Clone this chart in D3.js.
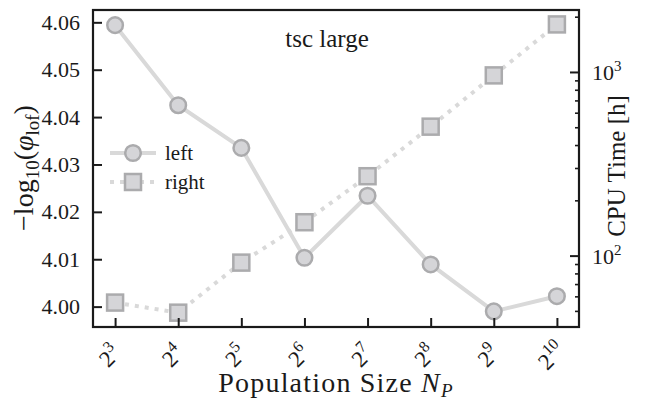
<!DOCTYPE html>
<html>
<head>
<meta charset="utf-8">
<script src="https://cdn.jsdelivr.net/npm/d3@7"></script>
<style>
  html, body { margin: 0; padding: 0; background: #fff; }
  svg, svg text { font-family: "Liberation Serif", "Times New Roman", "DejaVu Serif", serif; }
</style>
</head>
<body>
<svg id="chart" width="652" height="403"></svg>
<script>
// Population sizes as powers of two (exponents)
const exponents = [3, 4, 5, 6, 7, 8, 9, 10];
// Left axis: -log10(phi_lof)
const leftValues = [4.0594, 4.0425, 4.0335, 4.0103, 4.0234, 4.0089, 3.9990, 4.0022];
// Right axis: CPU time in hours
const rightValues = [55.5, 48.9, 91.6, 152, 270.6, 503.7, 957.9, 1815];
const leftTicks = [4.00, 4.01, 4.02, 4.03, 4.04, 4.05, 4.06];
const rightMajorTicks = [100, 1000];

const FONT = "Liberation Serif";
const svg = d3.select("#chart");
const plot = { left: 93, right: 579, top: 10, bottom: 327 };

const lineColor = "#d9d9d9";
const markFill = "#d5d5d8";
const markStroke = "#ababad";
const ink = "#1a1a1a";

const x = d3.scaleLinear().domain([2.65, 10.35]).range([plot.left, plot.right]);
const yL = d3.scaleLinear().domain([3.9957, 4.0626]).range([plot.bottom, plot.top]);
const yR = d3.scaleLog().domain([Math.pow(10, 1.6113), Math.pow(10, 3.3374)]).range([plot.bottom, plot.top]);

// Right series: dotted line with squares
svg.append("path")
  .datum(exponents.map((e, i) => [e, rightValues[i]]))
  .attr("fill", "none").attr("stroke", lineColor).attr("stroke-width", 4)
  .attr("stroke-dasharray", "4 6")
  .attr("d", d3.line().x(d => x(d[0])).y(d => yR(d[1])));

// Left series: solid line with circles
svg.append("path")
  .datum(exponents.map((e, i) => [e, leftValues[i]]))
  .attr("fill", "none").attr("stroke", lineColor).attr("stroke-width", 4)
  .attr("d", d3.line().x(d => x(d[0])).y(d => yL(d[1])));

const sq = 16;
svg.append("g").selectAll("rect").data(exponents).join("rect")
  .attr("x", d => x(d) - sq / 2).attr("y", (d, i) => yR(rightValues[i]) - sq / 2)
  .attr("width", sq).attr("height", sq)
  .attr("fill", markFill).attr("stroke", markStroke).attr("stroke-width", 2.5);

svg.append("g").selectAll("circle").data(exponents).join("circle")
  .attr("cx", d => x(d)).attr("cy", (d, i) => yL(leftValues[i])).attr("r", 7.8)
  .attr("fill", markFill).attr("stroke", markStroke).attr("stroke-width", 2.5);

// Frame
svg.append("rect")
  .attr("x", plot.left).attr("y", plot.top)
  .attr("width", plot.right - plot.left).attr("height", plot.bottom - plot.top)
  .attr("fill", "none").attr("stroke", ink).attr("stroke-width", 2.2);

// Left axis (ticks inward)
const axL = svg.append("g").attr("transform", `translate(${plot.left},0)`)
  .call(d3.axisLeft(yL).tickValues(leftTicks).tickFormat(d3.format(".2f"))
    .tickSizeInner(-9).tickSizeOuter(0).tickPadding(13));
axL.attr("font-family", FONT);
axL.select(".domain").remove();
axL.selectAll("line").attr("stroke", ink).attr("stroke-width", 2);
axL.selectAll("text").attr("font-size", 22).attr("fill", ink).attr("font-family", FONT);

// Right axis, log scale with minor ticks
const minorTicks = [];
[10, 100, 1000].forEach(base => {
  for (let k = 2; k <= 9; k++) {
    const v = base * k;
    if (v >= yR.domain()[0] && v <= yR.domain()[1]) minorTicks.push(v);
  }
});
const axR = svg.append("g").attr("transform", `translate(${plot.right},0)`);
axR.call(d3.axisRight(yR).tickValues(minorTicks).tickFormat("").tickSizeInner(-4).tickSizeOuter(0));
axR.select(".domain").remove();
axR.selectAll("line").attr("stroke", ink).attr("stroke-width", 1.6);
const axRM = svg.append("g").attr("transform", `translate(${plot.right},0)`)
  .call(d3.axisRight(yR).tickValues(rightMajorTicks).tickFormat("").tickSizeInner(-9).tickSizeOuter(0));
axRM.attr("font-family", FONT);
axRM.select(".domain").remove();
axRM.selectAll("line").attr("stroke", ink).attr("stroke-width", 2);
axRM.selectAll(".tick").each(function(d) {
  const t = d3.select(this).append("text")
    .attr("x", 13).attr("y", 8).attr("fill", ink).attr("font-size", 22)
    .attr("font-family", FONT).attr("text-anchor", "start");
  t.append("tspan").text("10");
  t.append("tspan").attr("font-size", 15).attr("dy", -9).text(Math.round(Math.log10(d)));
});

// Bottom axis with power-of-two labels
const axB = svg.append("g").attr("transform", `translate(0,${plot.bottom})`)
  .call(d3.axisBottom(x).tickValues(exponents).tickFormat("").tickSizeInner(-9).tickSizeOuter(0));
axB.attr("font-family", FONT);
axB.select(".domain").remove();
axB.selectAll("line").attr("stroke", ink).attr("stroke-width", 2);
axB.selectAll(".tick").each(function(d) {
  const t = d3.select(this).append("text")
    .attr("transform", "translate(-4,31) rotate(-45)")
    .attr("text-anchor", "middle").attr("dominant-baseline", "middle")
    .attr("font-family", FONT).attr("fill", ink).attr("font-size", 23);
  t.append("tspan").text("2");
  t.append("tspan").attr("font-size", 16).attr("dy", -9).text(d);
});

// Axis titles
const yTitle = svg.append("text")
  .attr("transform", "translate(33,168) rotate(-90)")
  .attr("text-anchor", "middle").attr("fill", ink).attr("font-size", 28)
  .attr("font-family", FONT);
yTitle.append("tspan").text("\u2212log");
yTitle.append("tspan").attr("font-size", 19).attr("dy", 6).text("10");
yTitle.append("tspan").attr("dy", -6).text("(");
yTitle.append("tspan").attr("font-style", "italic").text("\u03C6");
yTitle.append("tspan").attr("font-size", 19).attr("dy", 6).text("lof");
yTitle.append("tspan").attr("dy", -6).text(")");

svg.append("text")
  .attr("transform", "translate(625,166) rotate(-90)")
  .attr("text-anchor", "middle").attr("fill", ink).attr("font-size", 25)
  .attr("font-family", FONT).text("CPU Time [h]");

const xTitle = svg.append("text")
  .attr("x", 336).attr("y", 392)
  .attr("text-anchor", "middle").attr("fill", ink).attr("font-size", 28)
  .attr("font-family", FONT).attr("letter-spacing", 1.2);
xTitle.append("tspan").text("Population Size ");
xTitle.append("tspan").attr("font-style", "italic").text("N");
xTitle.append("tspan").attr("font-style", "italic").attr("font-size", 19).attr("dy", 5).text("P");

// Title inside the axes
svg.append("text")
  .attr("x", 327).attr("y", 47).attr("text-anchor", "middle")
  .attr("fill", ink).attr("font-size", 25).attr("font-family", FONT).text("tsc large");

// Legend
const legend = svg.append("g");
const legendItems = [
  { label: "left", y: 153, dash: null, mark: "circle" },
  { label: "right", y: 182, dash: "4 6", mark: "rect" }
];
legendItems.forEach(it => {
  legend.append("line").attr("x1", 110).attr("x2", 156).attr("y1", it.y).attr("y2", it.y)
    .attr("stroke", lineColor).attr("stroke-width", 4)
    .attr("stroke-dasharray", it.dash);
  if (it.mark === "circle") {
    legend.append("circle").attr("cx", 133).attr("cy", it.y).attr("r", 7.8)
      .attr("fill", markFill).attr("stroke", markStroke).attr("stroke-width", 2.5);
  } else {
    legend.append("rect").attr("x", 133 - sq / 2).attr("y", it.y - sq / 2).attr("width", sq).attr("height", sq)
      .attr("fill", markFill).attr("stroke", markStroke).attr("stroke-width", 2.5);
  }
  legend.append("text").attr("x", 165).attr("y", it.y + 7).attr("fill", ink)
    .attr("font-size", 21).attr("font-family", FONT).text(it.label);
});
</script>
</body>
</html>
